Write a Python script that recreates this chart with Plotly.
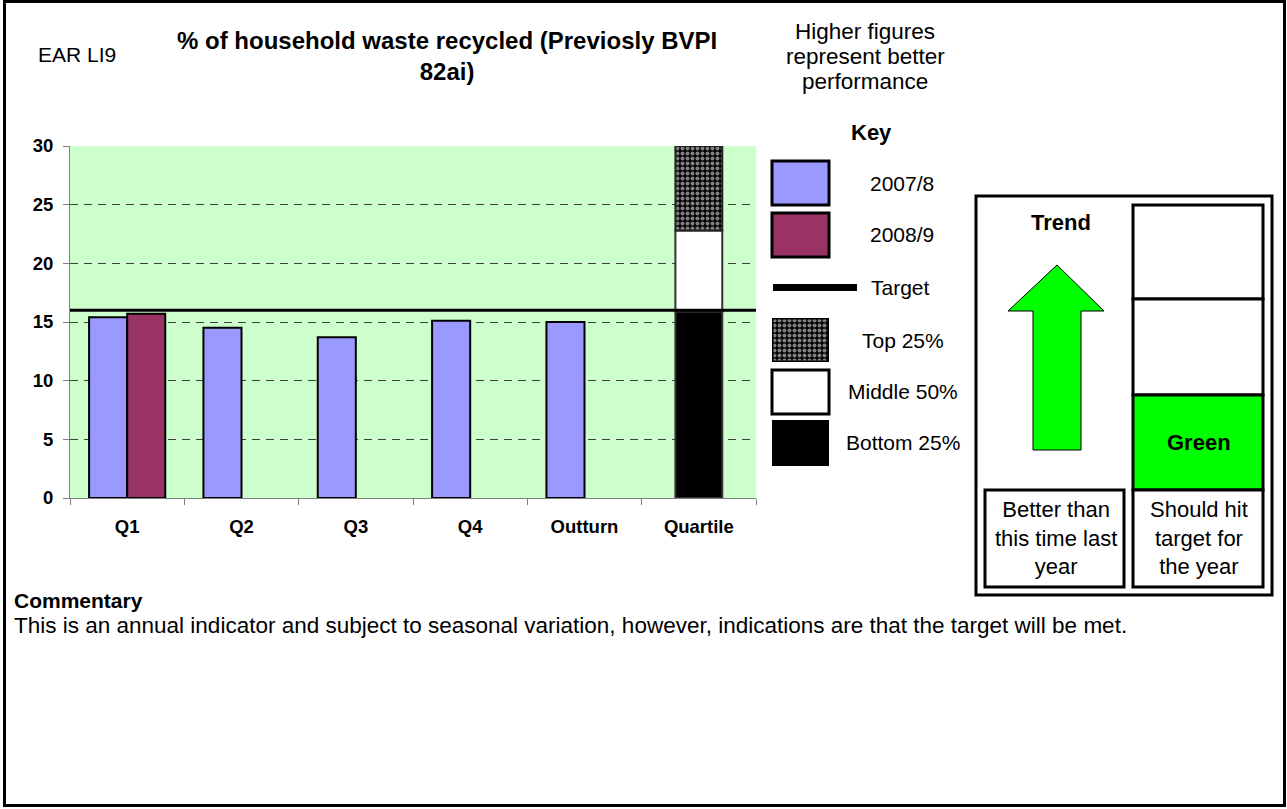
import plotly.graph_objects as go

# ---- data -------------------------------------------------------------
categories = ["Q1", "Q2", "Q3", "Q4", "Outturn", "Quartile"]
recycled_2007_8 = [15.4, 14.5, 13.7, 15.1, 15.0, None]
recycled_2008_9 = [15.7, None, None, None, None, None]
target = 16.0
quartile_bounds = [15.9, 22.8, 30.0]   # bottom 25% / middle 50% / top 25% upper limits
y_ticks = [0, 5, 10, 15, 20, 25, 30]

W, H = 1287, 809
FONT = "Liberation Sans, Arial, sans-serif"
BLUE = "#9999FF"
PLUM = "#993366"
GREEN_BG = "#CCFFCC"
CHECKER = dict(shape=".", fgcolor="white", bgcolor="black", size=5, solidity=0.5)


def px(x):
    return x / W


def py(y):
    return 1 - y / H


fig = go.Figure()

# 2007/8 bars sit on the left half of each group, 2008/9 on the right half
fig.add_trace(go.Bar(
    x=categories, y=recycled_2007_8, width=0.333, offset=-0.333,
    marker=dict(color=BLUE, line=dict(color="black", width=2)),
    name="2007/8", hoverinfo="skip"))
fig.add_trace(go.Bar(
    x=categories, y=recycled_2008_9, width=0.333, offset=0.0,
    marker=dict(color=PLUM, line=dict(color="black", width=2)),
    name="2008/9", hoverinfo="skip"))

# quartile stack
q_cat = [categories[-1]]
bases = [0.0, quartile_bounds[0], quartile_bounds[1]]
tops = quartile_bounds
styles = [
    dict(color="black", line=dict(color="#333333", width=2)),
    dict(color="white", line=dict(color="#333333", width=2)),
    dict(color="black", line=dict(color="#222222", width=2), pattern=CHECKER),
]
for b, t, st in zip(bases, tops, styles):
    fig.add_trace(go.Bar(x=q_cat, y=[t - b], base=[b], width=0.41, offset=-0.205,
                         marker=st, hoverinfo="skip", showlegend=False))

# patterned key swatch (on its own hidden axes)
fig.add_trace(go.Bar(
    x=[0], y=[1], width=1, xaxis="x3", yaxis="y3",
    marker=dict(color="black", line=dict(color="black", width=3), pattern=CHECKER),
    hoverinfo="skip", showlegend=False))

shapes = []
annotations = []

# target line across the plot
shapes.append(dict(type="line", xref="x domain", yref="y", x0=0, x1=1, y0=target, y1=target,
                   line=dict(color="black", width=3), layer="above"))

# page frame
shapes.append(dict(type="rect", xref="paper", yref="paper",
                   x0=px(4.5), x1=px(1284.5), y0=py(805.5), y1=py(1.5),
                   line=dict(color="black", width=3)))


def box(x0, y0, x1, y1, fill, lw=3, color="black"):
    shapes.append(dict(type="rect", xref="paper", yref="paper",
                       x0=px(x0), x1=px(x1), y0=py(y1), y1=py(y0),
                       fillcolor=fill, line=dict(color=color, width=lw)))


# key swatches
box(772, 161, 829, 205, BLUE)
box(772, 213, 829, 257, PLUM)
shapes.append(dict(type="line", xref="paper", yref="paper",
                   x0=px(773), x1=px(857), y0=py(287.5), y1=py(287.5),
                   line=dict(color="black", width=7)))
box(772, 370, 829, 414, "white")
box(772, 420, 829, 466, "black", lw=0)


def text(x, y, s, size=21, bold=False, align="center", xanchor="center"):
    if bold:
        s = "<b>" + s + "</b>"
    annotations.append(dict(xref="paper", yref="paper", x=px(x), y=py(y), text=s,
                            showarrow=False, xanchor=xanchor, yanchor="middle", align=align,
                            font=dict(family=FONT, size=size, color="black")))


text(871, 132, "Key", size=22, bold=True)
text(902, 183, "2007/8")
text(902, 235, "2008/9")
text(900, 287, "Target")
text(903, 340, "Top 25%")
text(903, 392, "Middle 50%")
text(903, 443, "Bottom 25%")

# headings
text(36, 55, "EAR LI9", size=21, xanchor="left")
text(447, 56, "% of household waste recycled (Previosly BVPI<br>82ai)", size=24, bold=True)
text(865, 32, "Higher figures", size=22.5)
text(865, 57, "represent better", size=22.5)
text(865, 81, "performance", size=22.5)

# status panel
box(976, 196, 1272, 595, "white")
box(1133, 205, 1263, 299, "white")
box(1133, 299, 1263, 395, "white")
box(1133, 395, 1263, 490, "#00FF00")
box(1133, 490, 1263, 587, "white")
box(985, 490, 1124, 587, "white")

arrow = [(1057, 265), (1104, 311), (1081, 311), (1081, 450),
         (1033, 450), (1033, 311), (1008, 311)]
path = "M " + " L ".join(f"{px(x):.5f},{py(y):.5f}" for x, y in arrow) + " Z"
shapes.append(dict(type="path", xref="paper", yref="paper", path=path,
                   fillcolor="#00FF00", line=dict(color="black", width=1)))

text(1061, 222, "Trend", size=22, bold=True)
text(1199, 443, "Green", size=22, bold=True)
text(1056, 538, "Better than<br>this time last<br>year", size=22)
text(1199, 538, "Should hit<br>target for<br>the year", size=22)

# commentary
text(12, 600, "Commentary", size=21, bold=True, xanchor="left")
text(12, 625, "This is an annual indicator and subject to seasonal variation, however, "
              "indications are that the target will be met.", size=22.5, xanchor="left")

axis_font = dict(family=FONT, size=18.5, color="black")

fig.update_layout(
    width=W, height=H,
    margin=dict(l=0, r=0, t=0, b=0, autoexpand=False),
    paper_bgcolor="white",
    plot_bgcolor=GREEN_BG,
    barmode="overlay",
    showlegend=False,
    shapes=shapes,
    annotations=annotations,
    xaxis=dict(domain=[px(70), px(756)], type="category", categoryorder="array",
               categoryarray=categories, range=[-0.5, 5.5],
               tickvals=categories, ticktext=[f"<b>{c}</b>" for c in categories],
               showline=True, linecolor="#808080", linewidth=1,
               ticks="outside", tickson="boundaries", ticklen=6, tickcolor="#808080",
               ticklabelstandoff=12, tickfont=axis_font,
               showgrid=False, fixedrange=True),
    yaxis=dict(domain=[py(498), py(146)], range=[0, 30],
               tickvals=y_ticks, ticktext=[f"<b>{v}</b>" for v in y_ticks],
               showline=True, linecolor="#808080", linewidth=1,
               ticks="outside", ticklen=6, tickcolor="#808080",
               ticklabelstandoff=6, tickfont=axis_font,
               showgrid=True, gridcolor="#404040", gridwidth=1, griddash="8px,6px",
               zeroline=False, fixedrange=True),
    xaxis3=dict(domain=[px(772), px(829)], range=[-0.5, 0.5], visible=False,
                fixedrange=True, anchor="y3"),
    yaxis3=dict(domain=[py(362), py(318)], range=[0, 1], visible=False, fixedrange=True,
                anchor="x3"),
)

fig.write_html("out.html", config={"displayModeBar": False})
